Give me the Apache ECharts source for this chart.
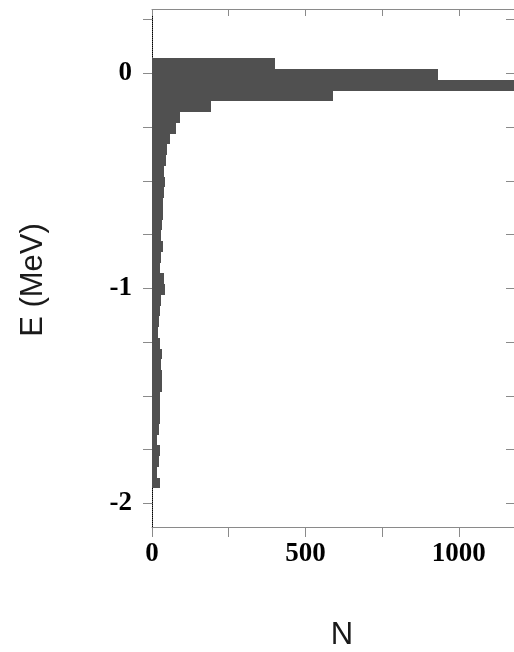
<!DOCTYPE html>
<html>
<head>
<meta charset="utf-8">
<script src="https://cdn.jsdelivr.net/npm/echarts@6/dist/echarts.min.js"></script>
<style>
  html, body { margin: 0; padding: 0; background: #fff; }
  #chart { width: 514px; height: 652px; }
</style>
</head>
<body>
<div id="chart"></div>
<script>
// ── Data: energy histogram, bins of 0.05 MeV, top edge first ─────────────────
var binTop   = 0.07;
var binWidth = 0.05;
var counts = [
  401, 932, 1300, 589, 193, 90, 78, 60, 50, 45,
  40, 42, 38, 37, 35, 32, 30, 36, 30, 26,
  40, 42, 30, 26, 24, 20, 26, 32, 30, 32,
  32, 26, 26, 26, 24, 16, 26, 22, 16, 26
];
var xTicks  = [0, 250, 500, 750, 1000];
var xLabels = [0, 500, 1000];
var yTicks  = [-2, -1.75, -1.5, -1.25, -1, -0.75, -0.5, -0.25, 0, 0.25];
var yLabels = [-2, -1, 0];

(function() {
  'use strict';

  var C = { ink: '#000', frame: '#8a8a8a', title: '#1a1a1a', bar: '#505050' };

  var bins = counts.map(function(n, i) {
    var hi = binTop - i * binWidth;
    return [hi - binWidth, hi, n];
  });

  var tickFont = { fontFamily: "'Liberation Serif', serif", fontWeight: 'bold', fontSize: 27, color: C.ink };
  var plain = function(v) { return String(v); };

  var chart = echarts.init(document.getElementById('chart'), null, { renderer: 'canvas' });
  chart.setOption({
    animation: false,
    backgroundColor: '#fff',
    grid: { left: 152, top: 9, width: 367, height: 518 },
    xAxis: [{
      type: 'value', position: 'bottom', min: 0, max: 1180,
      axisLine: { onZero: false, lineStyle: { color: C.frame, width: 1 } },
      axisTick: { show: true, inside: false, length: 10, customValues: xTicks, lineStyle: { color: C.frame } },
      axisLabel: Object.assign({ customValues: xLabels, margin: 14, formatter: plain }, tickFont),
      splitLine: { show: false }
    }, {
      type: 'value', position: 'top', min: 0, max: 1180,
      axisLine: { onZero: false, lineStyle: { color: C.frame, width: 1 } },
      axisTick: { show: true, inside: true, length: 7, customValues: xTicks, lineStyle: { color: C.frame } },
      axisLabel: { show: false },
      splitLine: { show: false }
    }],
    yAxis: [{
      type: 'value', position: 'left', min: -2.11, max: 0.3,
      axisLine: { show: true, onZero: false, lineStyle: { color: C.ink, width: 1, type: [1, 1] } },
      axisTick: { show: true, inside: false, length: 9, customValues: yTicks, lineStyle: { color: C.frame } },
      axisLabel: Object.assign({ customValues: yLabels, margin: 20, formatter: plain }, tickFont),
      splitLine: { show: false }
    }, {
      type: 'value', position: 'right', min: -2.11, max: 0.3,
      axisLine: { show: true, onZero: false, lineStyle: { color: C.frame, width: 1 } },
      axisTick: { show: true, inside: true, length: 8, customValues: yTicks, lineStyle: { color: C.frame } },
      axisLabel: { show: false },
      splitLine: { show: false }
    }],
    graphic: [{
      type: 'text', x: 33, y: 280, rotation: Math.PI / 2,
      style: { text: 'E (MeV)', font: "31px 'Liberation Sans', sans-serif", fill: C.title, align: 'center', verticalAlign: 'middle' }
    }, {
      type: 'text', x: 342, y: 635,
      style: { text: 'N', font: "31px 'Liberation Sans', sans-serif", fill: C.title, align: 'center', verticalAlign: 'middle' }
    }],
    series: [{
      type: 'custom',
      clip: true,
      data: bins,
      renderItem: function(params, api) {
        var p0 = api.coord([0, api.value(1)]);
        var p1 = api.coord([api.value(2), api.value(0)]);
        var x0 = Math.round(p0[0]), y0 = Math.round(p0[1]);
        var x1 = Math.round(p1[0]), y1 = Math.round(p1[1]);
        return {
          type: 'rect',
          shape: { x: x0, y: y0, width: x1 - x0, height: y1 - y0 },
          style: { fill: C.bar }
        };
      }
    }]
  });
})();
</script>
</body>
</html>
